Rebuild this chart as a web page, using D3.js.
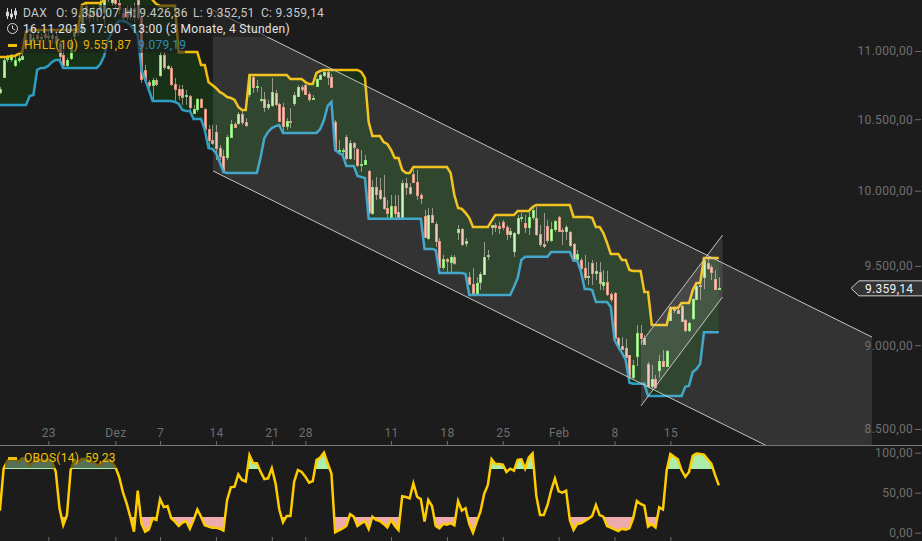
<!DOCTYPE html>
<html>
<head>
<meta charset="utf-8">
<script src="https://cdn.jsdelivr.net/npm/d3@7"></script>
<style>
  html, body { margin: 0; padding: 0; background: #1c1c1c; overflow: hidden; }
  text { font-family: Roboto, sans-serif; }
</style>
</head>
<body>
<div id="chart"></div>
<script>
const opens = [
  10696,10807,10940,10940,10896,10933,10940,11083,11129,11083,
  11121,11098,11129,11106,11121,11113,11060,10970,10896,10948,
  11113,11174,11159,11343,11289,11281,11297,11312,11297,11465,
  11374,11404,11366,11289,11312,11281,11327,11389,11258,10859,
  10770,10748,10785,10822,10970,10874,10874,10755,10719,10719,
  10668,10668,10545,10573,10646,10573,10430,10352,10409,10296,
  10240,10233,10373,10466,10473,10537,10480,10682,10807,10733,
  10639,10646,10588,10603,10689,10610,10588,10451,10487,10618,
  10668,10733,10748,10682,10646,10741,10792,10822,10844,10807,
  10480,10275,10275,10373,10226,10331,10289,10177,10184,10136,
  9850,10025,10005,9957,9883,9817,9897,9857,9823,10052,
  10025,10115,10059,9971,9830,9683,9836,9776,9663,9494,
  9546,9526,9559,9722,9742,9650,9428,9383,9320,9396,
  9448,9565,9756,9769,9762,9790,9756,9709,9598,9716,
  9816,9783,9756,9823,9816,9709,9644,9762,9670,9742,
  9823,9735,9729,9722,9644,9546,9539,9487,9428,9520,
  9455,9461,9377,9396,9320,9326,9044,8995,8983,8940,
  8807,8934,9075,9044,8886,8754,8795,8849,8904,8873,
  9156,9231,9219,9244,9156,9093,9168,9288,9377,9428,
  9520,9494,9415,9350.07
]
const closes = [
  10718,10933,10948,10963,10933,10948,10963,11053,11060,11098,
  11098,11106,11106,11113,11098,11060,10963,10896,10933,11068,
  11144,11144,11312,11289,11258,11312,11266,11358,11404,11404,
  11450,11366,11320,11258,11258,11312,11258,11258,10792,10785,
  10748,10785,10755,10970,10881,10889,10755,10719,10675,10660,
  10675,10588,10573,10646,10588,10430,10352,10331,10296,10240,
  10129,10373,10466,10444,10537,10480,10459,10815,10733,10741,
  10646,10588,10610,10697,10610,10487,10451,10487,10480,10675,
  10733,10719,10682,10646,10653,10792,10822,10844,10807,10733,
  10282,10282,10282,10226,10331,10303,10177,10184,10212,9857,
  10025,9978,9951,9883,9850,9897,9850,9823,10052,10025,
  9984,10059,9971,9951,9690,9836,9790,9663,9494,9546,
  9533,9559,9520,9742,9644,9663,9383,9320,9390,9448,
  9559,9572,9769,9756,9749,9756,9709,9729,9716,9816,
  9823,9756,9823,9870,9709,9644,9630,9670,9742,9796,
  9729,9729,9756,9637,9546,9578,9487,9428,9435,9455,
  9468,9390,9396,9320,9288,9044,8995,8977,8928,8807,
  8880,9075,9044,9007,8754,8795,8748,8904,8873,8965,
  9225,9219,9200,9150,9093,9137,9288,9371,9371,9539,
  9487,9461,9351,9359.14
]
const highs = [
  10733,10948,10970,10978,10963,10970,10978,11106,11159,11136,
  11159,11136,11152,11159,11159,11144,11083,11008,10948,11098,
  11174,11205,11343,11374,11320,11343,11327,11389,11420,11496,
  11481,11435,11389,11327,11350,11350,11366,11427,11273,10896,
  10785,10800,10800,10993,10993,10896,10889,10800,10748,10748,
  10711,10675,10603,10653,10653,10581,10459,10459,10459,10317,
  10282,10388,10494,10480,10552,10566,10508,10830,10822,10785,
  10733,10697,10639,10800,10711,10618,10618,10508,10581,10697,
  10748,10748,10763,10697,10675,10800,10830,10859,10859,10830,
  10494,10352,10296,10388,10352,10338,10296,10282,10247,10143,
  10073,10094,10087,10108,9937,9971,9971,9971,10073,10087,
  10052,10143,10143,9984,9870,9883,9883,9790,9683,9572,
  9552,9572,9572,9769,9749,9683,9461,9487,9428,9461,
  9657,9604,9769,9783,9790,9803,9769,9749,9722,9836,
  9850,9836,9857,9890,9890,9769,9850,9803,9790,9803,
  9830,9749,9769,9729,9650,9604,9552,9572,9526,9539,
  9526,9526,9474,9468,9332,9332,9050,9050,9038,8940,
  8910,9125,9125,9062,8898,8880,8819,8940,8971,8971,
  9231,9244,9231,9250,9162,9144,9294,9377,9383,9552,
  9552,9507,9474,9426.36
]
const lows = [
  10681,10800,10918,10918,10881,10911,10933,11038,11038,11060,
  11068,11068,11083,11068,11053,11038,10918,10874,10874,10933,
  11083,11113,11144,11235,11220,11235,11220,11281,11197,11374,
  11343,11327,11281,11235,11235,11235,11220,11235,10763,10770,
  10726,10639,10741,10807,10859,10859,10741,10618,10639,10603,
  10603,10566,10537,10552,10581,10416,10303,10317,10212,10212,
  10129,10212,10366,10437,10459,10459,10444,10660,10689,10697,
  10624,10552,10566,10588,10595,10480,10409,10423,10437,10595,
  10660,10697,10675,10624,10639,10733,10785,10807,10748,10726,
  10268,10247,10247,10212,10212,10212,10163,10129,10177,9836,
  9836,9937,9937,9870,9803,9810,9817,9803,9817,9971,
  9971,10052,9937,9910,9683,9670,9783,9624,9474,9474,
  9461,9461,9507,9670,9630,9624,9377,9313,9313,9345,
  9441,9539,9703,9722,9709,9735,9670,9683,9559,9703,
  9790,9716,9703,9803,9696,9624,9617,9650,9657,9722,
  9722,9637,9670,9624,9526,9526,9474,9409,9377,9377,
  9409,9345,9345,9307,9269,9038,8971,8971,8922,8777,
  8789,8873,9001,9001,8742,8742,8736,8801,8867,8867,
  9156,9200,9194,9144,9081,9081,9156,9282,9282,9351,
  9474,9409,9351,9350
]
const upper = [
  10955,10955,10955,10963,10963,10978,10993,11144,11159,11159,
  11159,11159,11159,11159,11159,11159,11159,11159,11159,11159,
  11159,11167,11350,11366,11366,11366,11366,11366,11389,11450,
  11450,11450,11450,11450,11450,11450,11450,11450,11450,11450,
  11450,11389,11358,11343,11343,11343,11343,11343,10993,10993,
  10993,10993,10993,10993,10896,10896,10770,10748,10726,10697,
  10682,10660,10653,10639,10588,10566,10566,10822,10822,10822,
  10822,10822,10822,10822,10822,10822,10822,10822,10792,10792,
  10792,10792,10770,10755,10755,10837,10852,10859,10859,10859,
  10859,10859,10859,10859,10859,10859,10859,10844,10800,10480,
  10381,10381,10381,10338,10324,10282,10226,10226,10143,10122,
  10122,10163,10163,10163,10163,10163,10163,10163,10163,10163,
  10163,10122,9971,9883,9877,9850,9817,9756,9756,9756,
  9756,9756,9796,9836,9836,9836,9836,9836,9836,9863,
  9863,9863,9863,9890,9904,9904,9904,9904,9904,9904,
  9904,9904,9904,9904,9823,9823,9823,9823,9823,9817,
  9756,9756,9716,9650,9578,9578,9578,9539,9539,9474,
  9468,9468,9468,9332,9332,9125,9125,9125,9125,9125,
  9231,9231,9231,9263,9263,9263,9345,9390,9390,9551.87,
  9551.87,9551.87,9551.87,9551.87
]
const lower = [
  10603,10603,10603,10603,10603,10603,10603,10603,10668,10675,
  10859,10874,10874,10889,10918,10933,10933,10874,10874,10874,
  10874,10874,10874,10874,10874,10874,10874,10904,10963,11083,
  11136,11197,11228,11228,11220,11197,11159,11121,10859,10785,
  10711,10631,10631,10631,10631,10631,10631,10624,10610,10566,
  10559,10559,10501,10501,10501,10423,10296,10289,10261,10198,
  10129,10122,10122,10122,10122,10122,10122,10122,10122,10122,
  10233,10366,10409,10437,10451,10459,10402,10402,10402,10402,
  10402,10402,10402,10402,10402,10402,10430,10494,10595,10624,
  10282,10261,10247,10170,10170,10170,10101,10094,10087,9810,
  9810,9810,9810,9810,9810,9810,9810,9810,9810,9810,
  9810,9810,9810,9810,9611,9611,9611,9604,9455,9455,
  9455,9455,9455,9455,9455,9448,9313,9313,9313,9313,
  9313,9313,9313,9313,9313,9313,9313,9313,9364,9422,
  9539,9559,9559,9559,9559,9559,9559,9559,9591,9591,
  9591,9591,9591,9591,9533,9533,9461,9351,9351,9345,
  9269,9269,9269,9269,9237,9032,8989,8953,8910,8772,
  8766,8766,8766,8766,8694,8694,8694,8694,8694,8694,
  8694,8694,8694,8694,8748,8754,8837,8855,8886,9079.19,
  9079.19,9079.19,9079.19,9079.19
]
const obos = [
  27.6,80,90,92,91,89,93,92,84,88,
  92,90,90,92,89,76,30.5,9.6,22,78.4,
  91,88,92,92,90,88,84.6,85,90,91,
  89,82,70,51,37,20,1.3,52.6,11.7,1.3,
  4,18,16,42,32,33.4,18,13.8,8.4,12.6,
  14.6,5,16,29,20,9.2,7.6,6.3,6.3,5,
  2.6,41,56.7,57.6,73,66,64,97,86.7,86.7,
  76,67,68,80.5,61.7,29,13,21,21,64,
  78.4,76,70,62.6,64.6,91,94,100,86.7,74,
  0.5,3,5.5,8.4,23,20,8.4,11.7,14.6,4.6,
  20,16,14.6,11,6.7,16,8.8,3.4,45.5,44.6,
  43,61.7,45,42,13.8,41,33.4,8.4,5.5,11,
  10,12,9.2,39.6,27.6,30.5,11,0,13.8,26.3,
  48.4,59.6,92,86,86,85,76,80,77.6,91,
  91.7,80,94,99,46,22,22,34.6,53,67.6,
  51.7,50,52.6,16,3.4,11,11.7,14.6,17.6,21,
  34.6,22,20,8.4,6.3,4.2,2,5,3.8,5.5,
  18,39.6,36,33.8,7.6,10.5,6.7,31.7,29,78,
  98.4,95,91.7,78,70,76,96,99,98.4,97.6,
  91.7,86,72,59.23
]

const dateTickBars = [13, 31, 43, 58, 73, 82, 105, 120, 135, 150, 165, 180]
const dateTickLabels = ['23', 'Dez', '7', '14', '21', '28', '11', '18', '25', 'Feb', '8', '15']
const priceTicks = [8500, 9000, 9500, 10000, 10500, 11000]
const oscTicks = [0, 50, 100]
const lastClose = 9359.14

// trend channels as [bar, price]
const channelTop = [[57.2, 11312], [234.1, 9050]]
const channelBottom = [[57.2, 10136], [234.1, 8109]]
const wedgeTop = [[172.1, 9014], [194, 9702]]
const wedgeBottom = [[172.1, 8635], [194, 9301]]

const width = 922
const height = 541
const paneBottom = 445
const background = '#1c1c1c'
const yellow = '#f2bd0a'
const blue = '#2f9dc4'
const grey = '#6f6f6f'

const svg = d3.select('#chart').append('svg')
  .attr('width', width)
  .attr('height', height)
  .style('display', 'block')

const x = d3.scaleLinear().domain([0, 180]).range([-0.1, 670.4])
const y = d3.scaleLog().domain([8500, 11000]).range([429, 51])
const yOsc = d3.scaleLinear().domain([0, 100]).range([532.7, 452.7])

const bars = d3.range(opens.length)
const deNum = d3.formatLocale({ decimal: ',', thousands: '.', grouping: [3], currency: ['', ''] }).format(',.2f')

// whole pixel edges so the zone fills leave no hairline along their baseline
const zoneHigh = Math.round(yOsc(80))
const zoneLow = Math.round(yOsc(20))

const defs = svg.append('defs')
defs.append('clipPath').attr('id', 'pane')
  .append('rect').attr('width', width).attr('height', paneBottom)
defs.append('clipPath').attr('id', 'overbought')
  .append('rect').attr('width', width).attr('y', paneBottom).attr('height', zoneHigh - paneBottom)
defs.append('clipPath').attr('id', 'oversold')
  .append('rect').attr('width', width).attr('y', zoneLow).attr('height', height - zoneLow)

const pane = svg.append('g').attr('clip-path', 'url(#pane)')

// HHLL band
pane.append('path')
  .datum(bars)
  .attr('fill', 'rgba(20,110,10,0.27)')
  .attr('d', d3.area().x(i => x(i)).y0(i => y(lower[i])).y1(i => y(upper[i])))

// Candles
pane.append('g').selectAll('line')
  .data(bars)
  .join('line')
  .attr('x1', i => Math.round(x(i)) + 0.5)
  .attr('x2', i => Math.round(x(i)) + 0.5)
  .attr('y1', i => y(highs[i]))
  .attr('y2', i => y(lows[i]))
  .attr('stroke', '#8d8d84')

pane.append('g').selectAll('rect')
  .data(bars)
  .join('rect')
  .attr('x', i => Math.round(x(i)) - 0.5)
  .attr('width', 2)
  .attr('y', i => Math.round(y(Math.max(opens[i], closes[i]))) + 0.5)
  .attr('height', i => Math.max(1, Math.round(Math.abs(y(opens[i]) - y(closes[i])))))
  .attr('fill', i => closes[i] >= opens[i] ? '#c6f5b0' : '#f0c2b2')
  .attr('stroke', i => closes[i] >= opens[i] ? '#82dc6c' : '#d98f7b')

const priceLine = d3.line().x(d => x(d[0])).y(d => y(d[1]))

pane.append('path')
  .attr('fill', 'none').attr('stroke', yellow).attr('stroke-width', 2.5)
  .attr('d', d3.line().x(i => x(i)).y(i => y(upper[i]))(bars))
pane.append('path')
  .attr('fill', 'none').attr('stroke', blue).attr('stroke-width', 2.5)
  .attr('d', d3.line().x(i => x(i)).y(i => y(lower[i]))(bars))

// Channels go over everything else in the pane
const drawChannel = (top, bottom) => {
  pane.append('path')
    .attr('fill', 'rgba(255,255,255,0.1)')
    .attr('d', priceLine(top.concat(bottom.slice().reverse())) + 'Z')
  ;[top, bottom].forEach(edge => {
    pane.append('path')
      .attr('fill', 'none').attr('stroke', '#c4c4c4')
      .attr('d', priceLine(edge))
  })
}
drawChannel(channelTop, channelBottom)
drawChannel(wedgeTop, wedgeBottom)

// Oscillator pane
const oscArea = d3.area().x(i => x(i)).y1(i => yOsc(obos[i]))
svg.append('path').datum(bars)
  .attr('clip-path', 'url(#overbought)')
  .attr('fill', '#aaeeaa')
  .attr('d', oscArea.y0(zoneHigh))
svg.append('path').datum(bars)
  .attr('clip-path', 'url(#oversold)')
  .attr('fill', '#eeabad')
  .attr('d', oscArea.y0(zoneLow))
svg.append('path')
  .attr('fill', 'none').attr('stroke', '#ffcc00').attr('stroke-width', 2.5)
  .attr('d', d3.line().x(i => x(i)).y(i => yOsc(obos[i]))(bars))

// Divider and axes
svg.append('line')
  .attr('x1', 0).attr('x2', width)
  .attr('y1', paneBottom + 0.5).attr('y2', paneBottom + 0.5)
  .attr('stroke', '#777')

const styleAxis = g => {
  g.select('.domain').remove()
  g.selectAll('line').attr('stroke', grey)
  g.selectAll('text').attr('fill', grey).style('font-size', '12px').style('letter-spacing', '0.3px')
}

svg.append('g')
  .attr('transform', `translate(0,${paneBottom})`)
  .call(d3.axisTop(x)
    .tickValues(dateTickBars)
    .tickFormat((d, i) => dateTickLabels[i])
    .tickSize(4)
    .tickPadding(4))
  .call(styleAxis)

svg.append('g')
  .attr('transform', `translate(0,${height})`)
  .call(d3.axisTop(x).tickValues(dateTickBars).tickFormat('').tickSize(4))
  .call(styleAxis)

svg.append('g')
  .attr('transform', 'translate(921,0)')
  .call(d3.axisLeft(y).tickValues(priceTicks).tickFormat(deNum).tickSize(6).tickPadding(2))
  .call(styleAxis)

svg.append('g')
  .attr('transform', 'translate(921,0)')
  .call(d3.axisLeft(yOsc).tickValues(oscTicks).tickFormat(deNum).tickSize(6).tickPadding(2))
  .call(styleAxis)

// Last price tag
const tagY = y(lastClose) + 0.5
svg.append('path')
  .attr('d', `M922,${tagY - 7.5}H859L851,${tagY}L859,${tagY + 7.5}H922`)
  .attr('fill', '#333').attr('stroke', '#cfcfcf')
svg.append('text')
  .attr('x', 865).attr('y', tagY + 4.5)
  .attr('fill', '#f2f2f2').style('font-size', '12px').style('letter-spacing', '0.3px')
  .text(deNum(lastClose))

// Legend boxes and text
const legendBoxes = [[0, 5, 329, 16], [0, 21, 289, 16], [0, 37, 185, 16], [5, 450, 117, 18]]
svg.append('g').selectAll('rect')
  .data(legendBoxes)
  .join('rect')
  .attr('x', d => d[0]).attr('y', d => d[1]).attr('width', d => d[2]).attr('height', d => d[3])
  .attr('fill', background).attr('fill-opacity', 0.6)

const legendTexts = [
  ['DAX', 23, 17, '#c8c8c8'],
  ['O: 9.350,07', 56, 17, '#c8c8c8'],
  ['H: 9.426,36', 124, 17, '#c8c8c8'],
  ['L: 9.352,51', 193, 17, '#c8c8c8'],
  ['C: 9.359,14', 261, 17, '#c8c8c8'],
  ['16.11.2015 17:00 - 13:00 (3 Monate, 4 Stunden)', 23, 33, '#e4e4e4'],
  ['HHLL(10)', 24, 49, '#e8b400'],
  ['9.551,87', 83, 49, '#e8b400'],
  ['9.079,19', 138, 49, '#2a8fb5'],
  ['OBOS(14)', 24, 462, '#f2c200'],
  ['59,23', 85, 462, '#f2c200']
]
svg.append('g').selectAll('text')
  .data(legendTexts)
  .join('text')
  .attr('x', d => d[1]).attr('y', d => d[2])
  .attr('fill', d => d[3])
  .style('font-size', '12px')
  .style('letter-spacing', '0.3px')
  .text(d => d[0])

svg.append('rect').attr('x', 8).attr('y', 44).attr('width', 9).attr('height', 3).attr('fill', yellow)
svg.append('rect').attr('x', 8).attr('y', 457).attr('width', 9).attr('height', 3).attr('fill', yellow)

// Clock and candle icons
const icons = svg.append('g').attr('stroke', '#d8d8d8').attr('fill', 'none')
icons.append('circle').attr('cx', 12.5).attr('cy', 28.5).attr('r', 5)
icons.append('path').attr('d', 'M12.5,25.5V28.5L15,30')
icons.append('path').attr('d', 'M7.5,8V19M11.5,9V19M15.5,8V19')
icons.append('path').attr('d', 'M6.5,12H8.5V16H6.5ZM10.5,14H12.5V17H10.5ZM14.5,11H16.5V15H14.5Z').attr('fill', '#d8d8d8')
</script>
</body>
</html>
